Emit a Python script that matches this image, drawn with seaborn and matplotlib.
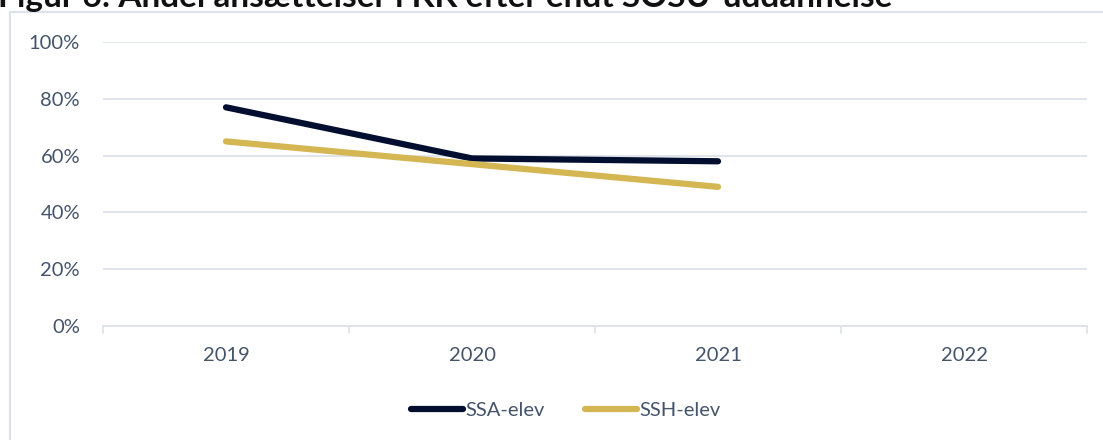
import numpy as np
import pandas as pd
import matplotlib
matplotlib.use("Agg")
import matplotlib.pyplot as plt
from matplotlib.patches import Rectangle
from matplotlib.lines import Line2D
import seaborn as sns

years = ["2019", "2020", "2021", "2022"]
ssa = [0.77, 0.59, 0.58, np.nan]
ssh = [0.65, 0.57, 0.49, np.nan]
series_names = ["SSA-elev", "SSH-elev"]
yticks = [0, 0.2, 0.4, 0.6, 0.8, 1.0]
ytick_labels = ["0%", "20%", "40%", "60%", "80%", "100%"]
title = "Figur 6: Andel ansættelser i KK efter endt SOSU-uddannelse"

sns.set_theme(style="white")
plt.rcParams['font.family'] = ['Lato', 'DejaVu Sans']

df = pd.DataFrame({
    "x": list(range(len(years))) * 2,
    "value": ssa + ssh,
    "series": [series_names[0]] * len(years) + [series_names[1]] * len(years),
})

text_color = "#44546A"
grid_color = "#DDE2E9"
palette = {"SSA-elev": "#020E2F", "SSH-elev": "#D4B652"}
fs = 14.5

fig = plt.figure(figsize=(11.03, 4.40), dpi=100)
ax = fig.add_axes([103 / 1103, 1 - 326 / 440, (1087 - 103) / 1103, (326 - 42) / 440])

sns.lineplot(data=df, x="x", y="value", hue="series", palette=palette,
             linewidth=4.5, ax=ax, legend=False, solid_capstyle="round")

ax.set_xlim(-0.5, len(years) - 0.5)
ax.set_ylim(0, 1.0)
ax.set_yticks(yticks)
ax.set_yticklabels(ytick_labels, color=text_color, fontsize=fs)
ax.set_xticks(range(len(years)))
ax.set_xticklabels(years, color=text_color, fontsize=fs)
ax.tick_params(axis="x", length=0, pad=15)
ax.tick_params(axis="y", length=0, pad=16.5)
ax.set_xlabel("")
ax.set_ylabel("")
ax.grid(axis="y", color=grid_color, linewidth=1.3)
ax.set_axisbelow(True)
for s in ["top", "right", "left"]:
    ax.spines[s].set_visible(False)
ax.spines["bottom"].set_color(grid_color)
ax.spines["bottom"].set_linewidth(1.3)
for b in np.arange(-0.5, len(years), 1.0):
    ax.plot([b, b], [0, -0.025], color=grid_color, lw=1.3, clip_on=False)

handles = [Line2D([0], [0], color=palette[n], lw=4.5, solid_capstyle="round") for n in series_names]
fig.legend(handles, series_names, loc="center", bbox_to_anchor=(0.513, 1 - 410 / 440),
           ncol=2, frameon=False, fontsize=fs, labelcolor=text_color,
           handlelength=2.6, handletextpad=0.1, columnspacing=2.0)

fig.patches.append(Rectangle((10 / 1103, -0.05), 1.2, 1 - 12 / 440 + 0.05,
                             transform=fig.transFigure, fill=False,
                             edgecolor=grid_color, lw=1.5))

fig.text(-0.002, 1 - 7 / 440, title, fontsize=24, fontweight="bold",
         color="#111111", va="baseline", ha="left")

fig.savefig("out.png", dpi=100)
